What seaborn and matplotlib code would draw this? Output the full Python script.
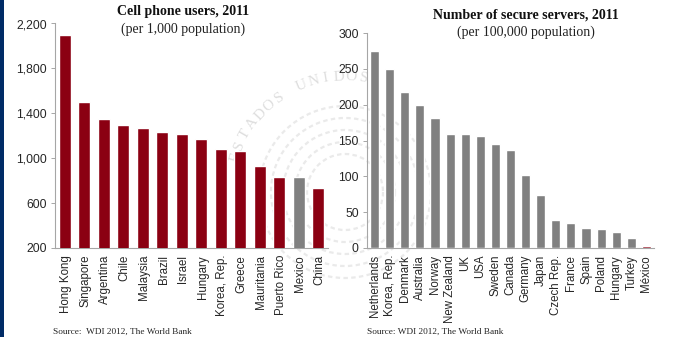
import numpy as np
import pandas as pd
import matplotlib
matplotlib.use("Agg")
import matplotlib.pyplot as plt
from matplotlib.patches import Rectangle, Arc
from matplotlib.transforms import ScaledTranslation
import seaborn as sns

phone_countries = ["Hong Kong", "Singapore", "Argentina", "Chile", "Malaysia", "Brazil", "Israel",
                   "Hungary", "Korea, Rep.", "Greece", "Mauritania", "Puerto Rico", "Mexico", "China"]
phone_values = [2100, 1498, 1352, 1299, 1272, 1234, 1219, 1174, 1085, 1067, 928, 830, 830, 732]
phone_ticks = [200, 600, 1000, 1400, 1800, 2200]

server_countries = ["Netherlands", "Korea, Rep.", "Denmark", "Australia", "Norway", "New Zealand", "UK",
                    "USA", "Sweden", "Canada", "Germany", "Japan", "Czech Rep.", "France", "Spain",
                    "Poland", "Hungary", "Turkey", "México"]
server_values = [275, 250, 218, 200, 181, 159, 159, 156, 145, 137, 102, 74, 39, 35, 28, 27, 22, 14, 3]
server_ticks = [0, 50, 100, 150, 200, 250, 300]

RED, GREY, NAVY = "#8B0012", "#808080", "#002B66"
W, H = 683, 337
sns.set_theme(style="white")
plt.rcParams["font.family"] = ["Liberation Sans", "DejaVu Sans"]
fig = plt.figure(figsize=(W / 100, H / 100), dpi=100, facecolor="white")


def panel(x0, x1, ytop, ybot, cats, vals, ticks, highlight, hi_col, col, width, label_shift):
    ax = fig.add_axes([x0 / W, 1 - ybot / H, (x1 - x0) / W, (ybot - ytop) / H])
    df = pd.DataFrame({"c": cats, "v": vals})
    colors = [hi_col if c == highlight else col for c in cats]
    sns.barplot(data=df, x="c", y="v", hue="c", palette=colors, legend=False,
                width=width, saturation=1, ax=ax)
    ax.set_xlim(-0.5, len(cats) - 0.5)
    ax.set_ylim(ticks[0], ticks[-1])
    ax.set_yticks(ticks)
    ax.set_yticklabels([f"{t:,}" for t in ticks], fontsize=8.8, color="#262626")
    ax.set_xticks(range(len(cats)))
    ax.set_xticklabels(cats, rotation=90, fontsize=8.3, color="#262626")
    ax.set_xlabel("")
    ax.set_ylabel("")
    ax.patch.set_alpha(0)
    for s in ("top", "right"):
        ax.spines[s].set_visible(False)
    for s in ("left", "bottom"):
        ax.spines[s].set_color("#A6A6A6")
        ax.spines[s].set_linewidth(0.8)
        ax.spines[s].set_zorder(0.5)
    ax.tick_params(axis="y", left=True, length=3, width=0.7, color="#A6A6A6", pad=3)
    ax.tick_params(axis="x", bottom=False, length=0, pad=5)
    offset = ScaledTranslation(label_shift / 100, 0, fig.dpi_scale_trans)
    for lab in ax.get_xticklabels():
        lab.set_transform(lab.get_transform() + offset)
    return ax


# faint watermark seal behind the panels
bg = fig.add_axes([0, 0, 1, 1], zorder=-1)
bg.set_xlim(0, W)
bg.set_ylim(H, 0)
bg.axis("off")
cx, cy, r = 345, 192, 115
for i, ch in enumerate("ESTADOS UNIDOS"):
    ang = np.deg2rad(-162.6 + i * 6.3)
    bg.text(cx + r * np.cos(ang), cy + r * np.sin(ang), ch, fontsize=11, family="Liberation Serif",
            color="#DEDEDE", rotation=-np.rad2deg(ang) - 90, ha="center", va="center")
for rad in (38, 50, 62, 74, 86):
    bg.add_patch(Arc((cx, cy), 2 * rad, 2 * rad, color="#EAEAEA", lw=1.6, ls=(0, (2, 1.5))))
bg.add_patch(Rectangle((0, 0), 4, H, color=NAVY, lw=0))

panel(55, 328, 23.5, 248, phone_countries, phone_values, phone_ticks, "Mexico", GREY, RED, 0.62, 1.5)
panel(367, 654, 33, 248, server_countries, server_values, server_ticks, "México", RED, GREY, 0.6, 0)

serif = "Liberation Serif"
fig.text(183 / W, 1 - 12 / H, "Cell phone users, 2011", ha="center", va="center",
         family=serif, weight="bold", fontsize=10, color="#111111")
fig.text(183 / W, 1 - 29 / H, "(per 1,000 population)", ha="center", va="center",
         family=serif, fontsize=10, color="#222222")
fig.text(526 / W, 1 - 15.5 / H, "Number of secure servers, 2011", ha="center", va="center",
         family=serif, weight="bold", fontsize=10, color="#111111")
fig.text(526 / W, 1 - 32.5 / H, "(per 100,000 population)", ha="center", va="center",
         family=serif, fontsize=10, color="#222222")
fig.text(53 / W, 1 - 332 / H, "Source:  WDI 2012, The World Bank", ha="left", va="center",
         family=serif, fontsize=6.7, color="#222222")
fig.text(367 / W, 1 - 332 / H, "Source: WDI 2012, The World Bank", ha="left", va="center",
         family=serif, fontsize=6.7, color="#222222")

fig.savefig("out.png", dpi=100, facecolor="white")
